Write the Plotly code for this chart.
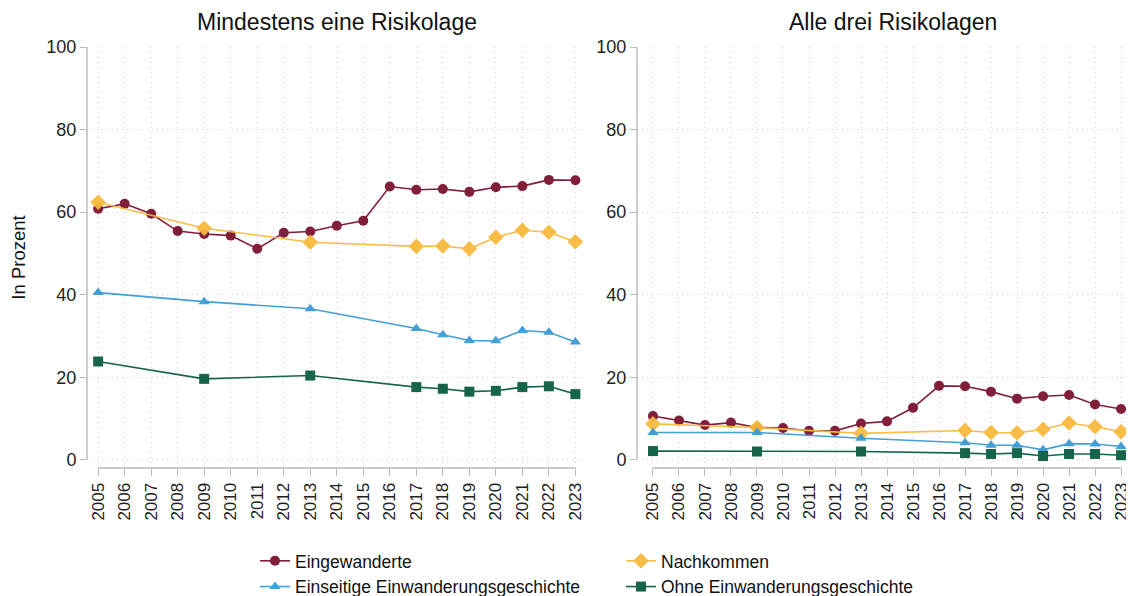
import plotly.graph_objects as go
from plotly.subplots import make_subplots

years_all = list(range(2005, 2024))
years_sub = [2005, 2009, 2013, 2017, 2018, 2019, 2020, 2021, 2022, 2023]

# Mindestens eine Risikolage
l_eing = [60.8, 62.0, 59.6, 55.4, 54.7, 54.3, 51.1, 55.0, 55.3, 56.7, 57.9, 66.2, 65.4, 65.6, 64.9, 66.0, 66.3, 67.8, 67.7]
l_nach = [62.4, 56.1, 52.7, 51.7, 51.8, 51.1, 53.9, 55.6, 55.1, 52.8]
l_eins = [40.5, 38.3, 36.6, 31.8, 30.3, 28.9, 28.8, 31.3, 30.9, 28.5]
l_ohne = [23.8, 19.6, 20.4, 17.6, 17.2, 16.5, 16.7, 17.6, 17.8, 15.9]

# Alle drei Risikolagen
r_eing = [10.6, 9.5, 8.4, 9.0, 7.8, 7.7, 7.0, 7.0, 8.8, 9.3, 12.6, 17.9, 17.8, 16.5, 14.8, 15.4, 15.7, 13.4, 12.3]
r_nach = [8.7, 7.8, 6.4, 7.1, 6.6, 6.5, 7.4, 8.9, 8.0, 6.8]
r_eins = [6.6, 6.6, 5.2, 4.1, 3.5, 3.5, 2.4, 3.9, 3.8, 3.2]
r_ohne = [2.1, 2.0, 2.0, 1.6, 1.4, 1.6, 0.9, 1.4, 1.4, 1.1]

titles = ["Mindestens eine Risikolage", "Alle drei Risikolagen"]
names = ["Eingewanderte", "Nachkommen", "Einseitige Einwanderungsgeschichte", "Ohne Einwanderungsgeschichte"]
colors = ["#7B1230", "#F8BA3E", "#3A9AD3", "#0A5C43"]
symbols = ["circle", "diamond", "triangle-up", "square"]
y_ticks = [0, 20, 40, 60, 80, 100]

FONT = "Arial, Liberation Sans, sans-serif"
AXC = "#b8b8b8"

# page has an 8px body margin -> figure is offset by 8px
OFF = 8
W, H = 1134 - 2 * OFF, 596 - OFF
ML, MR, MT = 87 - OFF, 0, 47 - OFF
PH = 421
MB = H - MT - PH
pw = W - ML - MR
PL = 87  # page x of plot-area left edge
d1 = [0, (586 - PL) / pw]
d2 = [(637 - PL) / pw, 1]

fig = make_subplots(rows=1, cols=2)

panels = [
    (1, [(years_all, l_eing), (years_sub, l_nach), (years_sub, l_eins), (years_sub, l_ohne)]),
    (2, [(years_all, r_eing), (years_sub, r_nach), (years_sub, r_eins), (years_sub, r_ohne)]),
]
for col, series in panels:
    for i, (xs, ys) in enumerate(series):
        fig.add_trace(go.Scatter(
            x=xs, y=ys, mode="lines+markers", name=names[i],
            legendgroup=names[i], showlegend=(col == 1),
            line=dict(color=colors[i], width=1.6),
            marker=dict(color=colors[i], symbol=symbols[i], size=10 if symbols[i] != "diamond" else 12),
            opacity=0.95, cliponaxis=False,
        ), row=1, col=col)

ranges = [[2004.58, 2023.4], [2004.386, 2023.19]]
title_x = [337, 893]
for col, (dom, rng) in enumerate(zip([d1, d2], ranges), start=1):
    fig.update_xaxes(
        domain=dom, range=rng, tickmode="array", tickvals=years_all,
        ticktext=[str(y) for y in years_all], tickangle=-90,
        ticks="outside", ticklen=7, tickcolor=AXC, automargin=False,
        ticklabeloverflow="allow",
        tickfont=dict(family=FONT, size=17, color="#222"),
        showgrid=True, gridcolor="#cfcfcf", griddash="1px,4px", gridwidth=1,
        showline=False, zeroline=False, row=1, col=col)
    fig.update_yaxes(
        range=[-2, 100], tickmode="array", tickvals=y_ticks,
        ticks="outside", ticklen=6, tickcolor=AXC, automargin=False,
        tickfont=dict(family=FONT, size=18, color="#222"),
        showgrid=True, gridcolor="#cfcfcf", griddash="1px,4px", gridwidth=1,
        showline=False, zeroline=False,
        row=1, col=col)
    xr = "x" if col == 1 else "x2"
    yr = "y" if col == 1 else "y2"
    # x axis line (offset below the plot, from first to last year)
    fig.add_shape(type="line", xref=xr, yref="paper", x0=2005, x1=2023, y0=0, y1=0,
                  line=dict(color=AXC, width=1.4))
    # y axis line (from 0 to 100)
    fig.add_shape(type="line", xref="paper", yref=yr, x0=dom[0], x1=dom[0], y0=0, y1=100,
                  line=dict(color=AXC, width=1.4))
    fig.add_annotation(text=titles[col - 1], xref="paper", yref="paper",
                       x=(title_x[col - 1] - PL) / pw, xanchor="center",
                       y=1, yshift=25, showarrow=False, yanchor="middle",
                       font=dict(family=FONT, size=23, color="#111"))

fig.update_yaxes(title=dict(text="In Prozent", standoff=17,
                            font=dict(family=FONT, size=18.5, color="#111")),
                 row=1, col=1)

fig.update_layout(
    width=W, height=H, margin=dict(l=ML, r=MR, t=MT, b=MB, autoexpand=False),
    plot_bgcolor="white", paper_bgcolor="white",
    legend=dict(orientation="h", x=(255 - PL) / pw, xanchor="left", y=-0.178, yanchor="top",
                entrywidth=321, tracegroupgap=0, itemwidth=30,
                font=dict(family=FONT, size=17.5, color="#111")),
)

fig.write_html("out.html")
